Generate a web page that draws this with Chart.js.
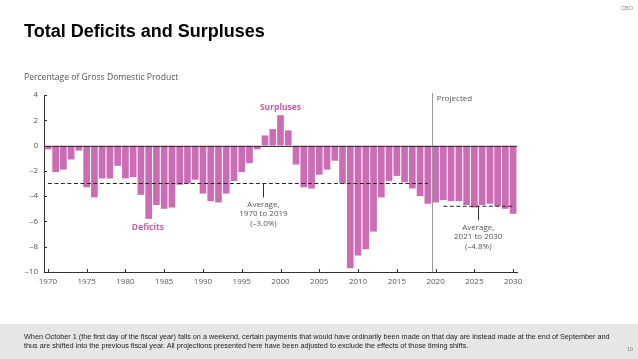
<!DOCTYPE html>
<html><head><meta charset="utf-8">
<script src="https://cdn.jsdelivr.net/npm/chart.js@4.4.1/dist/chart.umd.min.js"></script>
<style>
html,body{margin:0;padding:0;background:#fff;width:638px;height:359px;overflow:hidden;position:relative;font-family:"Liberation Sans",Arial,sans-serif}
#c{position:absolute;left:0;top:0}
.t{position:absolute;white-space:nowrap}
#title{left:24px;top:21px;font:bold 18px "Liberation Sans",Arial,sans-serif;color:#000}
#sub{left:24px;top:71px;font:8.6px "Open Sans",sans-serif;color:#555}
#cbo{left:621px;top:5px;font:5.5px "Liberation Sans",sans-serif;color:#888}
#foot{position:absolute;left:0;top:324px;width:638px;height:35px;background:#e6e6e6}
#foottext{left:24px;top:332px;font:7.25px/9px "Liberation Sans",Arial,sans-serif;color:#222}
#pg{left:627px;top:346px;font:5.5px "Liberation Sans",sans-serif;color:#888}
</style>
</head><body>
<div id="foot"></div>
<canvas id="c" width="638" height="359"></canvas>
<div class="t" id="title">Total Deficits and Surpluses</div>
<div class="t" id="sub">Percentage of Gross Domestic Product</div>
<div class="t" id="cbo">CBO</div>
<div class="t" id="foottext">When October 1 (the first day of the fiscal year) falls on a weekend, certain payments that would have ordinarily been made on that day are instead made at the end of September and<br>thus are shifted into the previous fiscal year. All projections presented here have been adjusted to exclude the effects of those timing shifts.</div>
<div class="t" id="pg">10</div>
<script>
const years = [1970,1971,1972,1973,1974,1975,1976,1977,1978,1979,
  1980,1981,1982,1983,1984,1985,1986,1987,1988,1989,
  1990,1991,1992,1993,1994,1995,1996,1997,1998,1999,
  2000,2001,2002,2003,2004,2005,2006,2007,2008,2009,
  2010,2011,2012,2013,2014,2015,2016,2017,2018,2019,
  2020,2021,2022,2023,2024,2025,2026,2027,2028,2029,2030];
const balance = [-0.3,-2.1,-1.9,-1.1,-0.4,-3.3,-4.1,-2.6,-2.6,-1.6,
  -2.6,-2.5,-3.9,-5.8,-4.7,-5.0,-4.9,-3.1,-3.0,-2.7,
  -3.8,-4.4,-4.5,-3.8,-2.8,-2.1,-1.4,-0.3,0.8,1.3,
  2.4,1.2,-1.5,-3.3,-3.4,-2.3,-1.9,-1.2,-3.0,-9.7,
  -8.7,-8.2,-6.8,-4.1,-2.8,-2.4,-2.9,-3.4,-4.0,-4.6,
  -4.5,-4.3,-4.4,-4.4,-4.7,-4.9,-4.7,-4.6,-4.8,-5.0,-5.4];
const yTicks = [4,2,0,-2,-4,-6,-8,-10];
const xTickYears = [1970,1975,1980,1985,1990,1995,2000,2005,2010,2015,2020,2025,2030];
const histAvgRange = [1970,2019];
const histAvg = -3.0;
const projAvgRange = [2021,2030];
const projAvg = -4.8;
const projectedStart = 2020;

const span = (r,v)=>years.map(y=>(y>=r[0]&&y<=r[1])?v:null);
const BAR = '#CB6CB4';
const LBL = '#C45DAA';
const TXT = '#555';
const tf = "'Open Sans', sans-serif";

const decor = {
  id:'decor',
  afterDatasetsDraw(chart){
    const {ctx, chartArea:a, scales:{x,y}} = chart;
    const ln=(x1,y1,x2,y2)=>{ctx.beginPath();ctx.moveTo(x1,y1);ctx.lineTo(x2,y2);ctx.stroke();};
    ctx.save();
    const pxp = x.getPixelForValue(years.indexOf(projectedStart)-0.5);
    ctx.strokeStyle='#999'; ctx.lineWidth=1;
    ln(Math.round(pxp)+0.5, a.top-2, Math.round(pxp)+0.5, a.bottom);
    const y0 = Math.round(y.getPixelForValue(0))+0.5;
    ctx.strokeStyle='#333'; ctx.lineWidth=1.2;
    ln(a.left,y0,a.right,y0);
    ctx.lineWidth=1; ctx.strokeStyle='#333';
    yTicks.forEach(v=>{const py=Math.round(y.getPixelForValue(v))+0.5; ln(a.left,py,a.left+3,py);});
    xTickYears.forEach(yr=>{const px=Math.round(x.getPixelForValue(years.indexOf(yr)))+0.5; ln(px,a.bottom,px,a.bottom-3);});
    ctx.textAlign='left'; ctx.textBaseline='middle';
    ctx.fillStyle=TXT; ctx.font="8px "+tf;
    ctx.fillText('Projected', pxp+5, a.top+4);
    ctx.textAlign='center';
    ctx.fillStyle=LBL; ctx.font="bold 8.5px "+tf;
    ctx.fillText('Surpluses', x.getPixelForValue(years.indexOf(2000)), y.getPixelForValue(3.0));
    ctx.fillText('Deficits', x.getPixelForValue(years.indexOf(1983)-0.1), y.getPixelForValue(-6.45));
    const note=(cx,vy,lines)=>{
      const py=y.getPixelForValue(vy);
      ctx.strokeStyle='#333'; ctx.lineWidth=1;
      ln(Math.round(cx)+0.5,py,Math.round(cx)+0.5,py+14);
      ctx.fillStyle=TXT; ctx.font="8px "+tf;
      lines.forEach((s,i)=>ctx.fillText(s,cx,py+21+i*9.5));
    };
    note(x.getPixelForValue(years.indexOf(1998)-0.2), histAvg, ['Average,','1970 to 2019','(\u20133.0%)']);
    note(x.getPixelForValue(years.indexOf(2025)+0.5), projAvg, ['Average,','2021 to 2030','(\u20134.8%)']);
    ctx.restore();
  }
};

new Chart(document.getElementById('c'),{
  data:{
    labels: years,
    datasets:[
      {type:'bar', data:balance, backgroundColor:BAR, barPercentage:0.86, categoryPercentage:1, order:2},
      {type:'line', data:span(histAvgRange,histAvg), borderColor:'#222', borderWidth:1, borderDash:[4,2.5], pointRadius:0, fill:false, order:1, spanGaps:false},
      {type:'line', data:span(projAvgRange,projAvg), borderColor:'#222', borderWidth:1, borderDash:[4,2.5], pointRadius:0, fill:false, order:1, spanGaps:false}
    ]
  },
  options:{
    responsive:false, animation:false,
    layout:{padding:{left:0,top:95,right:121,bottom:67}},
    plugins:{legend:{display:false},tooltip:{enabled:false}},
    scales:{
      x:{type:'category', offset:true,
        grid:{display:false,drawTicks:false},
        border:{display:true,color:'#333',width:1},
        ticks:{autoSkip:false,maxRotation:0,padding:5,color:TXT,font:{family:"Open Sans",size:8},
          callback:function(v,i){const yr=years[i]; return yr%5===0?String(yr):null;}},
        afterFit(s){s.height=20;}
      },
      y:{min:-10,max:4,
        grid:{display:false,drawTicks:false},
        border:{display:true,color:'#333',width:1},
        ticks:{stepSize:2,padding:6,color:TXT,font:{family:"Open Sans",size:8},
          callback:v=>v<0?'\u2013'+Math.abs(v):String(v)},
        afterFit(s){s.width=44;}
      }
    }
  },
  plugins:[decor]
});
</script>
</body></html>
